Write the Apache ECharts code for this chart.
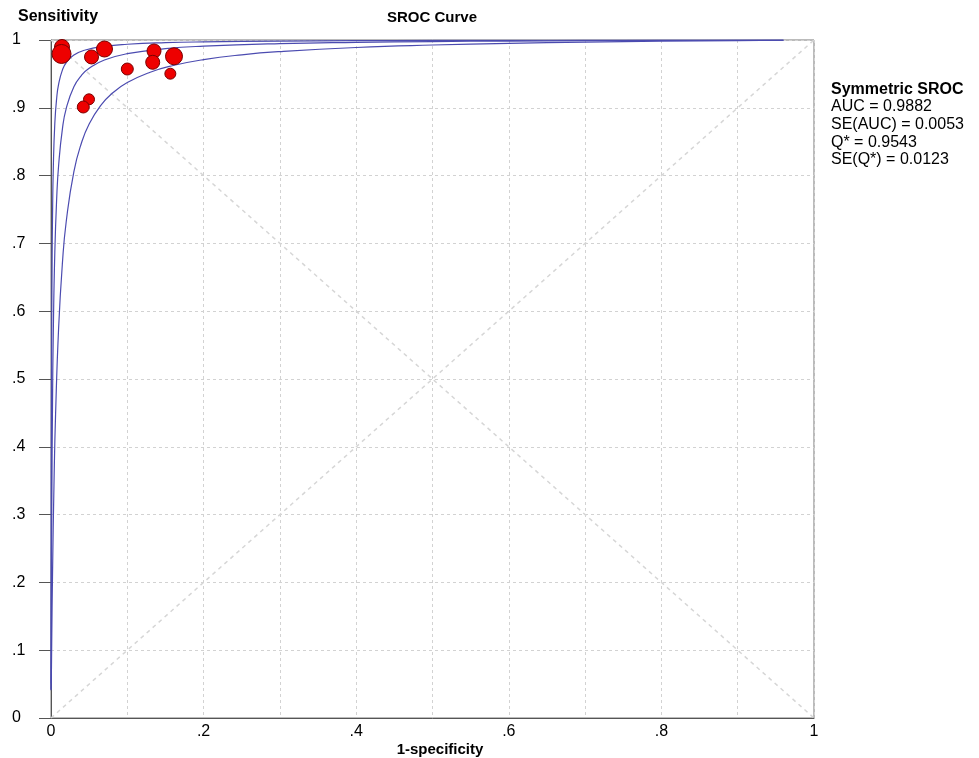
<!DOCTYPE html>
<html>
<head>
<meta charset="utf-8">
<script src="https://cdn.jsdelivr.net/npm/echarts@6/dist/echarts.min.js"></script>
<style>
  html, body { margin: 0; padding: 0; background: #fff; }
  #chart { width: 979px; height: 758px; }
</style>
</head>
<body>
<div id="chart"></div>
<script>
// studies: 1-specificity, sensitivity, relative weight (dot size)
var studyFpr = [0.0144, 0.0138, 0.0531, 0.0701, 0.1000, 0.1350, 0.1333, 0.1612, 0.1564, 0.0498, 0.0423];
var studySens = [0.9897, 0.9794, 0.9750, 0.9867, 0.9572, 0.9838, 0.9671, 0.9760, 0.9503, 0.9125, 0.9012];
var studyWeight = [15, 19, 14, 16, 12, 14, 14, 17, 11, 11, 12];

// SROC curve
var srocFpr = [0.0001, 0.0005, 0.001, 0.002, 0.003, 0.005, 0.0075, 0.01, 0.015, 0.02, 0.03, 0.04, 0.05, 0.07, 0.1, 0.15, 0.2, 0.3, 0.4, 0.5, 0.6, 0.7, 0.8, 0.9, 0.96];
var srocSens = [0.0419, 0.179, 0.3043, 0.4669, 0.568, 0.687, 0.7676, 0.8153, 0.8694, 0.8992, 0.9311, 0.9479, 0.9583, 0.9705, 0.9798, 0.9872, 0.99093, 0.99469, 0.99658, 0.99772, 0.99848, 0.99902, 0.99943, 0.99975, 0.9999];

// lower band
var lowFpr = [0.0004, 0.001, 0.002, 0.004, 0.006, 0.01, 0.015, 0.02, 0.03, 0.04, 0.05, 0.065, 0.08, 0.1, 0.13, 0.16, 0.2, 0.25, 0.3, 0.4, 0.5, 0.6, 0.7, 0.8, 0.9, 0.96];
var lowSens = [0.051, 0.1185, 0.212, 0.3504, 0.4477, 0.5757, 0.6716, 0.7327, 0.806, 0.8484, 0.8761, 0.9033, 0.9211, 0.9372, 0.9525, 0.9624, 0.9711, 0.9782, 0.9829, 0.98895, 0.99261, 0.99506, 0.99682, 0.99814, 0.99917, 0.99969];

// upper band
var upFpr = [0.00003, 0.0001, 0.0002, 0.0004, 0.0007, 0.001, 0.0015, 0.002, 0.003, 0.005, 0.0075, 0.01, 0.015, 0.02, 0.03, 0.045, 0.07, 0.1, 0.15, 0.2, 0.3, 0.4, 0.5, 0.6, 0.7, 0.8, 0.96];
var upSens = [0.0409, 0.1245, 0.2214, 0.3626, 0.499, 0.5874, 0.6812, 0.7403, 0.8106, 0.8772, 0.9149, 0.9349, 0.9559, 0.9667, 0.9778, 0.9853, 0.99074, 0.99371, 0.99603, 0.99719, 0.99836, 0.99895, 0.9993, 0.99953, 0.9997, 0.99982, 0.99997];

var diagA = [[0, 0], [1, 1]];
var diagB = [[0, 1], [1, 0]];

var statLines = ['AUC = 0.9882', 'SE(AUC) = 0.0053', 'Q* = 0.9543', 'SE(Q*) = 0.0123'];

function zip(xs, ys) {
    return xs.map(function (x, i) { return [x, ys[i]]; });
}

function fmtTick(v) {
    var n = Math.round(v * 10);
    if (n === 0) return '0';
    if (n === 10) return '1';
    return '.' + n;
}

var myChart = echarts.init(document.getElementById('chart'));

var font = 'Liberation Sans, Arial, sans-serif';
var curveColor = '#4b4bb0';

var graphics = [
    { type: 'text', left: 18, top: 9, style: { text: 'Sensitivity', font: 'bold 16px ' + font, fill: '#000' } },
    { type: 'text', x: 432, y: 18, style: { text: 'SROC Curve', font: 'bold 15px ' + font, fill: '#000', align: 'center', verticalAlign: 'middle' } },
    { type: 'text', x: 440, y: 750, style: { text: '1-specificity', font: 'bold 15px ' + font, fill: '#000', align: 'center', verticalAlign: 'middle' } },
    { type: 'text', x: 831, y: 90, style: { text: 'Symmetric SROC', font: 'bold 16px ' + font, fill: '#000', verticalAlign: 'middle' } }
];
statLines.forEach(function (s, i) {
    graphics.push({ type: 'text', x: 831, y: 107 + i * 17.6, style: { text: s, font: '16px ' + font, fill: '#000', verticalAlign: 'middle' } });
});

var option = {
    backgroundColor: '#fff',
    animation: false,
    grid: {
        left: 51,
        right: 165,
        top: 40,
        bottom: 40,
        show: true,
        borderColor: '#777',
        borderWidth: 1,
        outerBoundsMode: 'none'
    },
    xAxis: {
        type: 'value',
        min: 0,
        max: 1,
        interval: 0.1,
        axisLine: { lineStyle: { color: '#555' } },
        axisTick: { show: false },
        axisLabel: {
            margin: 6,
            color: '#000',
            fontSize: 16,
            fontFamily: font,
            formatter: function (v) {
                return Math.round(v * 10) % 2 ? '' : fmtTick(v);
            }
        },
        splitLine: { lineStyle: { color: '#d2d2d2', type: [3, 3] } }
    },
    yAxis: {
        type: 'value',
        min: 0,
        max: 1,
        interval: 0.1,
        axisLine: { onZero: false, lineStyle: { color: '#555' } },
        axisTick: { show: true, length: 12, lineStyle: { color: '#555' } },
        axisLabel: {
            margin: 39,
            align: 'left',
            color: '#000',
            fontSize: 16,
            fontFamily: font,
            formatter: fmtTick
        },
        splitLine: { lineStyle: { color: '#d2d2d2', type: [3, 3] } }
    },
    graphic: graphics,
    series: [
        {
            type: 'line', data: diagA, showSymbol: false, silent: true,
            lineStyle: { color: '#d6d6d6', width: 1.5, type: [4, 4] }
        },
        {
            type: 'line', data: diagB, showSymbol: false, silent: true,
            lineStyle: { color: '#d6d6d6', width: 1.5, type: [4, 4] }
        },
        {
            type: 'line', data: zip(lowFpr, lowSens), showSymbol: false, smooth: true,
            lineStyle: { color: curveColor, width: 1.2 }
        },
        {
            type: 'line', data: zip(upFpr, upSens), showSymbol: false, smooth: true,
            lineStyle: { color: curveColor, width: 1.2 }
        },
        {
            type: 'line', data: zip(srocFpr, srocSens), showSymbol: false, smooth: true,
            lineStyle: { color: curveColor, width: 1.2 }
        },
        {
            type: 'scatter',
            data: studyFpr.map(function (x, i) { return [x, studySens[i], studyWeight[i]]; }),
            symbolSize: function (d) { return d[2]; },
            itemStyle: { color: '#ee0000', borderColor: '#7a0000', borderWidth: 1, opacity: 1 },
            z: 10
        }
    ]
};

myChart.setOption(option);
</script>
</body>
</html>
